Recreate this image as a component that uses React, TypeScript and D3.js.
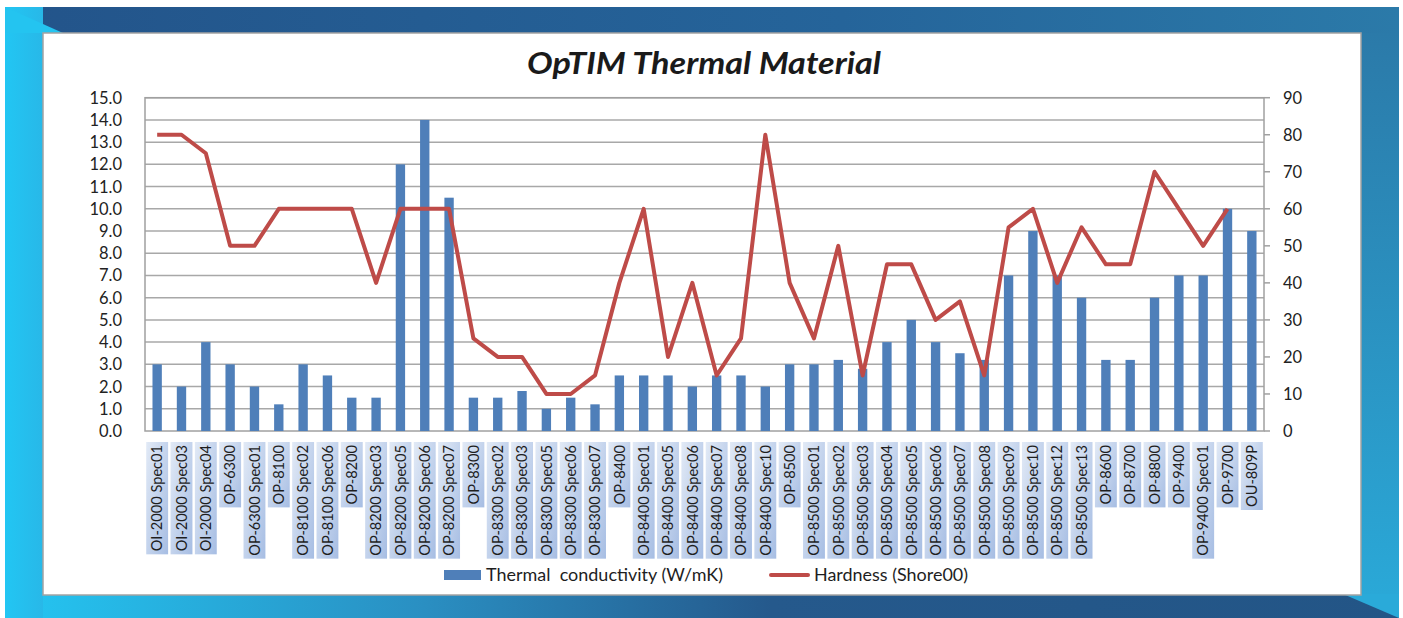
import React, { useRef, useEffect } from "react";
import * as d3 from "d3";

const categories = [
  "OI-2000 Spec01", "OI-2000 Spec03", "OI-2000 Spec04", "OP-6300", "OP-6300 Spec01",
  "OP-8100", "OP-8100 Spec02", "OP-8100 Spec06", "OP-8200", "OP-8200 Spec03",
  "OP-8200 Spec05", "OP-8200 Spec06", "OP-8200 Spec07", "OP-8300", "OP-8300 Spec02",
  "OP-8300 Spec03", "OP-8300 Spec05", "OP-8300 Spec06", "OP-8300 Spec07", "OP-8400",
  "OP-8400 Spec01", "OP-8400 Spec05", "OP-8400 Spec06", "OP-8400 Spec07", "OP-8400 Spec08",
  "OP-8400 Spec10", "OP-8500", "OP-8500 Spec01", "OP-8500 Spec02", "OP-8500 Spec03",
  "OP-8500 Spec04", "OP-8500 Spec05", "OP-8500 Spec06", "OP-8500 Spec07", "OP-8500 Spec08",
  "OP-8500 Spec09", "OP-8500 Spec10", "OP-8500 Spec12", "OP-8500 Spec13", "OP-8600",
  "OP-8700", "OP-8800", "OP-9400", "OP-9400 Spec01", "OP-9700", "OU-809P",
];

// Thermal conductivity (W/mK), left axis
const conductivity = [
  3.0, 2.0, 4.0, 3.0, 2.0, 1.2, 3.0, 2.5, 1.5, 1.5,
  12.0, 14.0, 10.5, 1.5, 1.5, 1.8, 1.0, 1.5, 1.2, 2.5,
  2.5, 2.5, 2.0, 2.5, 2.5, 2.0, 3.0, 3.0, 3.2, 2.8,
  4.0, 5.0, 4.0, 3.5, 3.2, 7.0, 9.0, 7.0, 6.0, 3.2,
  3.2, 6.0, 7.0, 7.0, 10.0, 9.0,
];

// Hardness (Shore00), right axis - last product has no value
const hardness = [
  80, 80, 75, 50, 50, 60, 60, 60, 60, 40,
  60, 60, 60, 25, 20, 20, 10, 10, 15, 40,
  60, 20, 40, 15, 25, 80, 40, 25, 50, 15,
  45, 45, 30, 35, 15, 55, 60, 40, 55, 45,
  45, 70, 60, 50, 60, null,
];

const leftTicks = [0, 1, 2, 3, 4, 5, 6, 7, 8, 9, 10, 11, 12, 13, 14, 15];
const rightTicks = [0, 10, 20, 30, 40, 50, 60, 70, 80, 90];
const chartTitle = "OpTIM Thermal Material";
const legendLabels = ["Thermal  conductivity (W/mK)", "Hardness (Shore00)"];

const W = 1403;
const H = 618;
const FONT = "Lato, 'Open Sans', sans-serif";

const App = () => {
  const svgRef = useRef<SVGSVGElement>(null);

  useEffect(() => {
    const svg = d3.select(svgRef.current);
    svg.selectAll("*").remove();

    const defs = svg.append("defs");
    const grad = (id, x1, y1, x2, y2, stops, user = true) => {
      const g = defs
        .append("linearGradient")
        .attr("id", id)
        .attr("x1", x1)
        .attr("y1", y1)
        .attr("x2", x2)
        .attr("y2", y2);
      if (user) g.attr("gradientUnits", "userSpaceOnUse");
      stops.forEach(([o, c]) => g.append("stop").attr("offset", o).attr("stop-color", c));
    };
    grad("topGrad", 5, 0, 1399, 0, [[0, "#23548a"], [0.6, "#25649a"], [1, "#2b7aa9"]]);
    grad("rightGrad", 0, 33, 0, 618, [[0, "#2b7aa9"], [1, "#2aaad9"]]);
    grad("bottomGrad", 5, 0, 1399, 0, [[0, "#24c6f2"], [0.3, "#2a8fc2"], [0.55, "#25598c"], [1, "#235586"]]);
    grad("leftGrad", 5, 0, 43, 0, [[0, "#22c6f3"], [1, "#28b8e8"]]);
    grad("labelGrad", 1, 0, 0, 1, [[0, "#e2eaf6"], [1, "#a6bde3"]], false);

    // outer frame
    svg.append("rect").attr("x", 5).attr("y", 7).attr("width", 1394).attr("height", 26).attr("fill", "url(#topGrad)");
    svg.append("rect").attr("x", 1360).attr("y", 33).attr("width", 39).attr("height", 585).attr("fill", "url(#rightGrad)");
    svg.append("rect").attr("x", 5).attr("y", 594).attr("width", 1394).attr("height", 24).attr("fill", "url(#bottomGrad)");
    svg.append("rect").attr("x", 5).attr("y", 7).attr("width", 38).attr("height", 611).attr("fill", "url(#leftGrad)");
    svg.append("polygon").attr("points", "5,7 63,33 5,33").attr("fill", "#24c4f0");
    svg.append("polygon").attr("points", "1343,594 1399,594 1399,618").attr("fill", "#2aaad9");

    // white panel
    svg
      .append("rect")
      .attr("x", 43)
      .attr("y", 33)
      .attr("width", 1318)
      .attr("height", 562)
      .attr("fill", "#ffffff")
      .attr("stroke", "#a3a3a3")
      .attr("stroke-width", 1.5);

    const left = 145;
    const right = 1264;
    const top = 97.7;
    const bottom = 431;

    const x = d3.scaleBand().domain(categories).range([left, right]).padding(0);
    const yL = d3.scaleLinear().domain([0, 15]).range([bottom, top]);
    const yR = d3.scaleLinear().domain([0, 90]).range([bottom, top]);
    const bw = x.bandwidth() / 2.6;
    const cx = (c) => x(c) + x.bandwidth() / 2;

    // title
    svg
      .append("text")
      .attr("x", 704)
      .attr("y", 74)
      .attr("text-anchor", "middle")
      .attr("font-family", FONT)
      .attr("font-weight", "bold")
      .attr("font-style", "italic")
      .attr("font-size", 30)
      .attr("fill", "#1a1a1a")
      .attr("textLength", 354)
      .attr("lengthAdjust", "spacingAndGlyphs")
      .text(chartTitle);

    // gridlines
    svg
      .append("g")
      .selectAll("line")
      .data(leftTicks.slice(1))
      .join("line")
      .attr("x1", left)
      .attr("x2", right)
      .attr("y1", (d) => yL(d))
      .attr("y2", (d) => yL(d))
      .attr("stroke", "#a8a8a8")
      .attr("stroke-width", 1.5);

    svg
      .append("rect")
      .attr("x", left)
      .attr("y", top)
      .attr("width", right - left)
      .attr("height", bottom - top)
      .attr("fill", "none")
      .attr("stroke", "#a0a0a0")
      .attr("stroke-width", 1.5);

    // left axis labels
    svg
      .append("g")
      .selectAll("text")
      .data(leftTicks)
      .join("text")
      .attr("x", 122)
      .attr("y", (d) => yL(d))
      .attr("dy", "0.36em")
      .attr("text-anchor", "end")
      .attr("font-family", FONT)
      .attr("font-size", 16.5)
      .attr("fill", "#222")
      .text((d) => d3.format(".1f")(d));

    // right axis
    const rAxis = svg.append("g");
    rAxis
      .selectAll("line")
      .data(rightTicks)
      .join("line")
      .attr("x1", right)
      .attr("x2", right + 6)
      .attr("y1", (d) => yR(d))
      .attr("y2", (d) => yR(d))
      .attr("stroke", "#a0a0a0")
      .attr("stroke-width", 1.5);
    rAxis
      .selectAll("text")
      .data(rightTicks)
      .join("text")
      .attr("x", 1283)
      .attr("y", (d) => yR(d))
      .attr("dy", "0.36em")
      .attr("font-family", FONT)
      .attr("font-size", 16.5)
      .attr("fill", "#222")
      .text((d) => d);

    // bars
    svg
      .append("g")
      .selectAll("rect")
      .data(conductivity)
      .join("rect")
      .attr("x", (d, i) => cx(categories[i]) - bw / 2)
      .attr("y", (d) => yL(d))
      .attr("width", bw)
      .attr("height", (d) => bottom - yL(d))
      .attr("fill", "#4f7fb9");

    // hardness line
    const line = d3
      .line<number | null>()
      .defined((d) => d != null)
      .x((d, i) => cx(categories[i]))
      .y((d) => yR(d as number));
    svg
      .append("path")
      .attr("d", line(hardness))
      .attr("fill", "none")
      .attr("stroke", "#be4b48")
      .attr("stroke-width", 4)
      .attr("stroke-linejoin", "round");

    // category labels with gradient boxes
    const boxW = x.bandwidth() * 0.9;
    const lab = svg
      .append("g")
      .selectAll("g")
      .data(categories)
      .join("g")
      .attr("transform", (d) => `translate(${cx(d)},442) rotate(-90)`);
    const rects = lab.append("rect");
    const texts = lab
      .append("text")
      .attr("x", -3)
      .attr("y", 0)
      .attr("dy", "0.36em")
      .attr("text-anchor", "end")
      .attr("font-family", FONT)
      .attr("font-size", 14.6)
      .attr("fill", "#1e1e1e")
      .text((d) => d);
    texts.each(function (d, i) {
      const len = (this as SVGTextElement).getComputedTextLength();
      d3.select(rects.nodes()[i])
        .attr("x", -(len + 6))
        .attr("y", -boxW / 2)
        .attr("width", len + 6)
        .attr("height", boxW)
        .attr("fill", "url(#labelGrad)");
    });

    // legend
    const leg = svg.append("g").attr("font-family", FONT).attr("font-size", 17).attr("fill", "#1e1e1e");
    leg.append("rect").attr("x", 444).attr("y", 570).attr("width", 37).attr("height", 10).attr("fill", "#4f7fb9");
    leg
      .append("text")
      .attr("x", 486)
      .attr("y", 581)
      .attr("textLength", 237)
      .attr("lengthAdjust", "spacingAndGlyphs")
      .style("white-space", "pre")
      .text(legendLabels[0]);
    leg
      .append("line")
      .attr("x1", 771)
      .attr("x2", 808)
      .attr("y1", 575)
      .attr("y2", 575)
      .attr("stroke", "#be4b48")
      .attr("stroke-width", 4)
      .attr("stroke-linecap", "round");
    leg
      .append("text")
      .attr("x", 814)
      .attr("y", 581)
      .attr("textLength", 154)
      .attr("lengthAdjust", "spacingAndGlyphs")
      .text(legendLabels[1]);
  }, []);

  return (
    <svg
      ref={svgRef}
      width={W}
      height={H}
      style={{ position: "absolute", left: 0, top: 0, background: "#ffffff" }}
    />
  );
};

export default App;
